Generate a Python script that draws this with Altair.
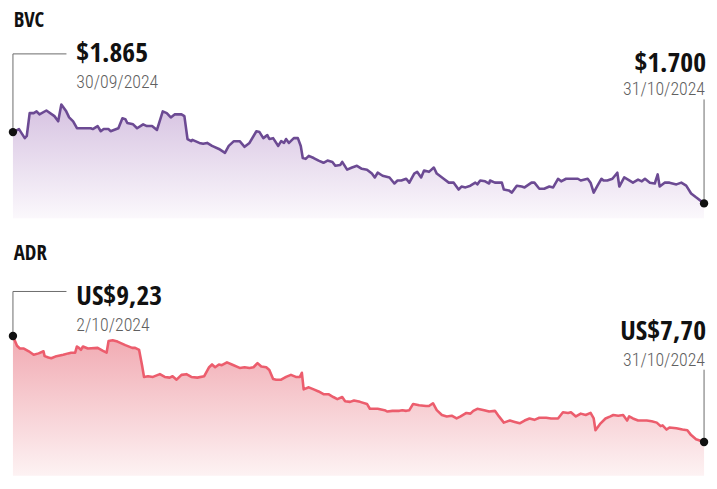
import altair as alt
import pandas as pd

# ---- BVC (COP) ----
bvc_t = [0, 0.27, 0.53, 0.62, 0.75, 0.93, 1.06, 1.19, 1.50, 1.86, 2.03, 2.17, 2.39, 2.52, 2.70, 2.87,
         3.49, 3.58, 3.80, 3.94, 4.07, 4.29, 4.38, 4.73, 4.91, 5.04, 5.13, 5.39, 5.57, 5.84, 6.01, 6.24,
         6.46, 6.72, 6.90, 7.08, 7.25, 7.56, 7.69, 7.83, 8.00, 8.05, 8.36, 8.53, 8.71, 8.93, 9.24, 9.51,
         9.68, 9.91, 10.17, 10.39, 10.61, 10.92, 11.06, 11.23, 11.41, 11.50, 11.67, 11.90, 12.03, 12.16,
         12.25, 12.38, 12.60, 12.78, 12.91, 13.00, 13.13, 13.27, 13.49, 13.71, 13.93, 14.11, 14.33, 14.46,
         14.68, 14.77, 14.99, 15.21, 15.43, 15.65, 15.88, 16.10, 16.23, 16.36, 16.58, 16.89, 17.11, 17.25,
         17.42, 17.64, 17.78, 18.00, 18.13, 18.31, 18.44, 18.66, 18.88, 19.01, 19.32, 19.55, 19.77, 19.99,
         20.12, 20.30, 20.52, 20.74, 20.83, 20.96, 21.18, 21.36, 21.40, 21.62, 21.93, 22.02, 22.24, 22.38,
         22.60, 22.82, 22.95, 23.26, 23.39, 23.61, 23.83, 24.06, 24.23, 24.45, 24.59, 24.81, 25.34, 25.47,
         25.78, 25.91, 26.05, 26.22, 26.40, 26.49, 26.66, 26.89, 27.11, 27.20, 27.42, 27.59, 27.81, 28.04,
         28.21, 28.35, 28.57, 28.79, 28.92, 29.01, 29.23, 29.45, 29.76, 29.98, 30.20, 30.42, 30.64, 31.00]
bvc_v = [1865, 1872, 1851, 1856, 1909, 1909, 1913, 1906, 1915, 1902, 1890, 1929, 1913, 1899, 1890, 1874,
         1874, 1872, 1879, 1867, 1872, 1872, 1867, 1874, 1897, 1895, 1886, 1883, 1874, 1883, 1879, 1879,
         1870, 1913, 1909, 1899, 1906, 1906, 1902, 1849, 1844, 1847, 1840, 1838, 1840, 1833, 1826, 1817,
         1833, 1844, 1844, 1831, 1840, 1867, 1865, 1851, 1858, 1849, 1851, 1833, 1844, 1840,
         1849, 1840, 1851, 1851, 1833, 1805, 1803, 1810, 1805, 1799, 1794, 1799, 1796, 1787,
         1789, 1796, 1778, 1783, 1787, 1780, 1778, 1769, 1760, 1771, 1764, 1760, 1746, 1753,
         1753, 1757, 1748, 1769, 1773, 1760, 1776, 1773, 1783, 1769, 1757, 1748, 1748, 1732,
         1739, 1737, 1741, 1748, 1744, 1753, 1751, 1746, 1753, 1748, 1748, 1732, 1730, 1725,
         1741, 1739, 1737, 1748, 1748, 1734, 1734, 1739, 1737, 1757, 1751, 1757, 1757, 1753,
         1757, 1748, 1725, 1741, 1757, 1753, 1753, 1757, 1771, 1739, 1760, 1755, 1748, 1755,
         1751, 1757, 1748, 1746, 1767, 1739, 1748, 1748, 1744, 1748, 1741, 1723, 1714, 1700]

# ---- ADR (USD) ----
adr_t = [0, 0.18, 0.31, 0.49, 0.71, 0.93, 1.15, 1.37, 1.42, 1.59, 1.72, 1.95, 2.26, 2.48, 2.61, 2.79,
         2.87, 2.96, 3.05, 3.14, 3.36, 3.80, 4.02, 4.20, 4.29, 4.47, 4.69, 5.04, 5.35, 5.48, 5.66, 5.79,
         5.88, 6.06, 6.28, 6.59, 6.81, 7.03, 7.16, 7.34, 7.56, 7.78, 8.00, 8.27, 8.58, 8.80, 8.93, 9.07,
         9.24, 9.37, 9.60, 9.82, 10.17, 10.39, 10.61, 10.79, 10.97, 11.14, 11.36, 11.50, 11.67, 11.81,
         12.03, 12.25, 12.47, 12.69, 12.87, 12.96, 13.04, 13.27, 13.49, 13.71, 13.93, 14.15, 14.37, 14.55,
         14.77, 14.90, 15.12, 15.30, 15.57, 15.88, 16.01, 16.36, 16.67, 16.80, 17.02, 17.33, 17.47, 17.64,
         17.78, 17.95, 18.22, 18.53, 18.66, 18.84, 19.01, 19.24, 19.46, 19.68, 19.90, 20.08, 20.34, 20.52,
         20.65, 20.83, 21.14, 21.36, 21.62, 21.80, 22.02, 22.29, 22.51, 22.73, 22.95, 23.17, 23.39, 23.61,
         23.92, 24.14, 24.45, 24.67, 24.90, 25.03, 25.25, 25.47, 25.69, 25.91, 26.05, 26.13, 26.36, 26.58,
         26.80, 26.93, 27.15, 27.37, 27.55, 27.64, 27.81, 28.04, 28.43, 28.65, 28.88, 29.05, 29.14, 29.32,
         29.45, 29.76, 30.03, 30.25, 30.42, 30.64, 31.00]
adr_v = [9.23, 9.09, 9.05, 9.05, 9.01, 8.96, 8.98, 9.01, 8.94, 8.92, 8.91, 8.94, 8.96, 8.98, 8.99, 8.99,
         9.08, 9.06, 9.03, 9.08, 9.05, 9.06, 9.02, 8.99, 9.16, 9.17, 9.15, 9.10, 9.06, 9.06, 9.03, 8.81,
         8.64, 8.65, 8.64, 8.68, 8.64, 8.63, 8.65, 8.60, 8.67, 8.68, 8.64, 8.63, 8.65, 8.78, 8.82, 8.78,
         8.82, 8.81, 8.85, 8.82, 8.77, 8.78, 8.77, 8.78, 8.84, 8.79, 8.78, 8.74, 8.61, 8.60,
         8.60, 8.64, 8.67, 8.64, 8.64, 8.70, 8.46, 8.49, 8.46, 8.43, 8.39, 8.39, 8.35, 8.32,
         8.35, 8.29, 8.28, 8.30, 8.28, 8.25, 8.18, 8.18, 8.16, 8.14, 8.15, 8.15, 8.16, 8.15,
         8.16, 8.25, 8.23, 8.22, 8.22, 8.26, 8.16, 8.09, 8.07, 8.08, 8.04, 8.07, 8.12, 8.11,
         8.15, 8.18, 8.16, 8.14, 8.15, 8.07, 7.98, 8.01, 7.99, 7.97, 8.01, 8.04, 8.02, 8.05,
         8.05, 8.04, 8.04, 8.13, 8.12, 8.13, 8.07, 8.11, 8.09, 8.12, 8.04, 7.87, 7.97, 8.04,
         8.07, 8.09, 8.08, 8.09, 8.01, 8.07, 8.04, 8.01, 8.01, 8.00, 7.98, 7.93, 7.94, 7.88,
         7.91, 7.90, 7.88, 7.87, 7.80, 7.74, 7.70]

titles = ["BVC", "ADR"]
start_labels = ["$1.865", "US$9,23"]
start_dates = ["30/09/2024", "2/10/2024"]
end_labels = ["$1.700", "US$7,70"]
end_dates = ["31/10/2024", "31/10/2024"]

BIG_FONT = "Open Sans Condensed"
SMALL_FONT = "Roboto Condensed"


def panel(title, t, v, line_color, g_top, g_bot, ydom, height,
          s_label, s_date, e_label, e_date,
          lead_left_v, lead_left_t, lead_right_v,
          s_dy, sd_dy, e_dy, ed_dy):
    df = pd.DataFrame({"t": t, "v": v})
    xs = alt.Scale(domain=[0, 31], nice=False, zero=False)
    ys = alt.Scale(domain=ydom, nice=False, zero=False)
    x_ax = alt.X("t:Q", scale=xs, axis=alt.Axis(title=None, labels=False, ticks=False, grid=False,
                                                 domain=True, domainColor="#c4c4c4", domainWidth=2))
    x_n = alt.X("t:Q", scale=xs, axis=None)
    y_n = alt.Y("v:Q", scale=ys, axis=None)

    grad = alt.Gradient(gradient="linear",
                        stops=[alt.GradientStop(color=g_top, offset=0),
                               alt.GradientStop(color=g_bot, offset=1)],
                        x1=1, x2=1, y1=0, y2=1)
    area = alt.Chart(df).mark_area(color=grad).encode(x=x_ax, y=y_n, y2=alt.datum(ydom[0]))
    line = alt.Chart(df).mark_line(color=line_color, strokeWidth=2.6, strokeJoin="round").encode(x=x_n, y=y_n)

    lead_l = pd.DataFrame({"t": [t[0], t[0], lead_left_t], "v": [v[0], lead_left_v, lead_left_v], "o": [0, 1, 2]})
    lead_l_mark = alt.Chart(lead_l).mark_line(color="#6a6a6a", strokeWidth=1).encode(x=x_n, y=y_n, order="o:Q")
    lead_r = pd.DataFrame({"t": [t[-1], t[-1]], "v": [v[-1], lead_right_v], "o": [0, 1]})
    lead_r_mark = alt.Chart(lead_r).mark_line(color="#6a6a6a", strokeWidth=1).encode(x=x_n, y=y_n, order="o:Q")

    ends = pd.DataFrame({"t": [t[0], t[-1]], "v": [v[0], v[-1]]})
    dots = alt.Chart(ends).mark_circle(size=72, color="#111111", opacity=1).encode(x=x_n, y=y_n)

    start = pd.DataFrame({"t": [t[0]], "v": [v[0]], "big": [s_label], "small": [s_date]})
    end = pd.DataFrame({"t": [t[-1]], "v": [v[-1]], "big": [e_label], "small": [e_date]})

    s_big = alt.Chart(start).mark_text(align="left", baseline="alphabetic", dx=64, dy=s_dy, font=BIG_FONT,
                                       fontSize=28, fontWeight="bold", color="#111111").encode(x=x_n, y=y_n, text="big:N")
    s_small = alt.Chart(start).mark_text(align="left", baseline="alphabetic", dx=64, dy=sd_dy, font=SMALL_FONT,
                                         fontSize=18, fontWeight=300, color="#606060").encode(x=x_n, y=y_n, text="small:N")
    e_big = alt.Chart(end).mark_text(align="right", baseline="alphabetic", dx=2, dy=e_dy, font=BIG_FONT,
                                     fontSize=28, fontWeight="bold", color="#111111").encode(x=x_n, y=y_n, text="big:N")
    e_small = alt.Chart(end).mark_text(align="right", baseline="alphabetic", dx=1, dy=ed_dy, font=SMALL_FONT,
                                       fontSize=18, fontWeight=300, color="#606060").encode(x=x_n, y=y_n, text="small:N")

    return alt.layer(area, line, lead_l_mark, lead_r_mark, dots, s_big, s_small, e_big, e_small).properties(
        width=698, height=height,
        title=alt.TitleParams(text=title, anchor="start", font=BIG_FONT, fontSize=21, fontWeight="bold",
                              color="#111111", offset=6, dx=5)
    )


top = panel(titles[0], bvc_t, bvc_v, "#6c4a93", "#d6c2e1", "#fbf8fc", [1665.6, 2085], 183,
            start_labels[0], start_dates[0], end_labels[0], end_dates[0],
            2046, 2.40, 1940.6, -71, -45, -133, -109)
bottom = panel(titles[1], adr_t, adr_v, "#ec5d6d", "#f1aab2", "#fdf2f3", [7.214, 10.188], 208,
               start_labels[1], start_dates[1], end_labels[1], end_dates[1],
               9.874, 2.40, 8.744, -31, -5, -103, -77)

chart = alt.vconcat(top, bottom, spacing=25).properties(
    padding={"left": 0, "top": 0, "right": 0, "bottom": 0}
).configure(background="white", view=alt.ViewConfig(stroke=None))

chart.save("out.html", embed_options={"renderer": "svg", "actions": False})
